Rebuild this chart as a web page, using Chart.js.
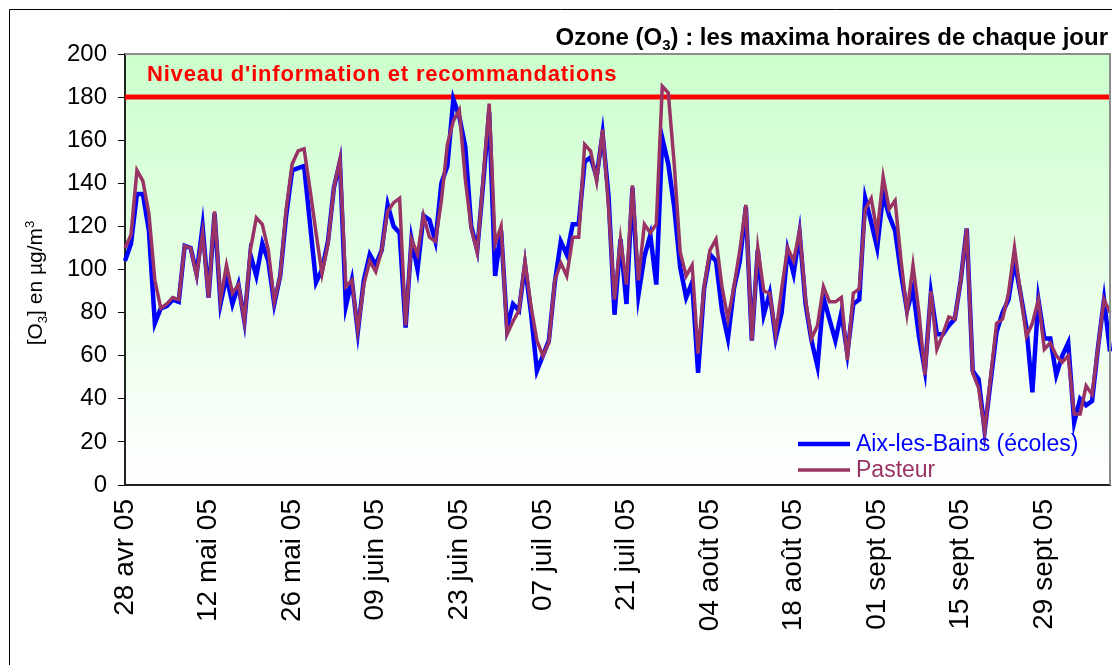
<!DOCTYPE html>
<html lang="fr">
<head>
<meta charset="utf-8">
<title>Ozone (O3) : les maxima horaires de chaque jour</title>
<script src="https://cdn.jsdelivr.net/npm/chart.js@4.4.1/dist/chart.umd.min.js"></script>
<style>
    html, body { margin: 0; padding: 0; background: #fff; }
    #wrap { position: relative; width: 1112px; height: 665px; }
</style>
</head>
<body>
<div id="wrap"><canvas id="ozoneChart"></canvas></div>
<script>
// Données : maxima horaires journaliers d'ozone (µg/m3), du 28 avril 2005 au 10 octobre 2005
const dateDebut = new Date(2005, 3, 28);
const moisCourts = ["janv", "févr", "mars", "avr", "mai", "juin", "juil", "août", "sept", "oct", "nov", "déc"];
const pasEtiquettes = 14;

const aixLesBains = [
    104, 112, 135, 135, 118, 75, 82, 83, 86, 85,
    111, 110, 98, 120, 87, 126, 84, 97, 84, 93,
    76, 107, 97, 112, 104, 84, 97, 125, 146, 147,
    148, 121, 94, 100, 113, 138, 150, 83, 95, 71,
    95, 107, 102, 109, 130, 120, 117, 73, 114, 100,
    125, 123, 113, 140, 148, 179, 171, 157, 120, 109,
    140, 173, 97, 118, 73, 84, 81, 102, 80, 53,
    60, 67, 94, 113, 107, 121, 121, 150, 152, 143,
    163, 134, 79, 114, 84, 138, 88, 106, 116, 93,
    161, 149, 129, 101, 87, 94, 52, 91, 107, 104,
    81, 68, 91, 104, 129, 67, 109, 79, 89, 68,
    80, 109, 98, 117, 84, 67, 55, 87, 77, 67,
    80, 61, 84, 86, 133, 122, 110, 135, 125, 118,
    98, 81, 91, 69, 53, 89, 70, 70, 74, 77,
    95, 119, 53, 49, 25, 48, 71, 80, 86, 104,
    89, 73, 43, 86, 68, 68, 51, 60, 66, 29,
    40, 37, 39, 64, 86, 62
];

const pasteur = [
    110, 116, 146, 141, 126, 95, 82, 84, 87, 86,
    111, 110, 97, 117, 87, 127, 86, 102, 89, 93,
    76, 109, 124, 121, 109, 85, 97, 128, 149, 155,
    156, 137, 117, 98, 112, 138, 151, 92, 95, 72,
    93, 104, 99, 109, 127, 131, 133, 74, 114, 107,
    125, 115, 113, 132, 158, 169, 174, 142, 119, 108,
    142, 177, 112, 120, 70, 76, 81, 104, 83, 67,
    60, 66, 95, 103, 97, 115, 115, 158, 155, 141,
    165, 129, 86, 114, 93, 139, 95, 121, 117, 121,
    185, 182, 149, 108, 97, 102, 61, 92, 109, 114,
    92, 77, 92, 109, 130, 67, 110, 90, 89, 70,
    91, 110, 104, 118, 86, 68, 74, 92, 85, 85,
    87, 58, 89, 91, 128, 133, 117, 143, 128, 132,
    104, 80, 102, 80, 51, 90, 63, 70, 78, 77,
    95, 119, 52, 45, 25, 50, 75, 77, 89, 110,
    89, 69, 75, 86, 63, 66, 60, 57, 60, 33,
    33, 46, 42, 64, 86, 80
];

const seuilInformation = 180;
const yMin = 0;
const yMax = 200;
const yPas = 20;

// Libellés des jours : "28 avr 05"
const jours = aixLesBains.map((_, i) => {
    const d = new Date(dateDebut);
    d.setDate(d.getDate() + i);
    return String(d.getDate()).padStart(2, "0") + " " + moisCourts[d.getMonth()] + " 05";
});

const police = "'Liberation Sans', Arial, sans-serif";

// Texte avec indices / exposants
function largeurRiche(ctx, morceaux, taille, gras) {
    let w = 0;
    morceaux.forEach(m => {
        const t = m.sub || m.sup ? Math.round(taille * 0.62) : taille;
        ctx.font = (gras ? "bold " : "") + t + "px " + police;
        w += ctx.measureText(m.t).width;
    });
    return w;
}

function texteRiche(ctx, morceaux, x, y, taille, gras) {
    let cx = x;
    morceaux.forEach(m => {
        const t = m.sub || m.sup ? Math.round(taille * 0.62) : taille;
        ctx.font = (gras ? "bold " : "") + t + "px " + police;
        let dy = 0;
        if (m.sub) dy = taille * 0.22;
        if (m.sup) dy = -taille * 0.38;
        ctx.fillText(m.t, cx, y + dy);
        cx += ctx.measureText(m.t).width;
    });
}

// Fond dégradé vert -> blanc de la zone de tracé
const fondDegrade = {
    id: "fondDegrade",
    beforeDraw(chart) {
        const { ctx, chartArea: a } = chart;
        const g = ctx.createLinearGradient(0, a.top, 0, a.bottom);
        g.addColorStop(0, "#ccffcc");
        g.addColorStop(1, "#ffffff");
        ctx.save();
        ctx.fillStyle = g;
        ctx.fillRect(a.left, a.top, a.right - a.left, a.bottom - a.top);
        ctx.restore();
    }
};

// Seuil d'information à 180
const ligneSeuil = {
    id: "ligneSeuil",
    beforeDatasetsDraw(chart) {
        const { ctx, chartArea: a, scales } = chart;
        const y = scales.y.getPixelForValue(seuilInformation);
        ctx.save();
        ctx.strokeStyle = "#ff0000";
        ctx.lineWidth = 5;
        ctx.beginPath();
        ctx.moveTo(a.left, y);
        ctx.lineTo(a.right, y);
        ctx.stroke();

        ctx.fillStyle = "#ff0000";
        ctx.font = "bold 22px " + police;
        ctx.letterSpacing = "0.8px";
        ctx.textBaseline = "alphabetic";
        ctx.fillText("Niveau d'information et recommandations", a.left + 22, y - 16);
        ctx.restore();
    }
};

// Cadres, titre, titre de l'axe Y et légende
const habillage = {
    id: "habillage",
    afterDraw(chart) {
        const { ctx, chartArea: a } = chart;
        ctx.save();

        // bord gris haut et droit de la zone de tracé
        ctx.strokeStyle = "#8c8c8c";
        ctx.lineWidth = 2;
        ctx.beginPath();
        ctx.moveTo(a.left, a.top);
        ctx.lineTo(a.right, a.top);
        ctx.lineTo(a.right, a.bottom);
        ctx.stroke();

        // cadre extérieur
        ctx.strokeStyle = "#000";
        ctx.lineWidth = 1;
        ctx.beginPath();
        ctx.moveTo(9.5, chart.height);
        ctx.lineTo(9.5, 9.5);
        ctx.lineTo(chart.width, 9.5);
        ctx.stroke();

        // titre
        ctx.fillStyle = "#000";
        ctx.textBaseline = "alphabetic";
        const titre = [{ t: "Ozone (O" }, { t: "3", sub: true }, { t: ") : les maxima horaires de chaque jour" }];
        const wt = largeurRiche(ctx, titre, 24, true);
        texteRiche(ctx, titre, a.right - 2 - wt, 45, 24, true);

        // titre de l'axe Y
        const titreY = [{ t: "[O" }, { t: "3", sub: true }, { t: "] en µg/m" }, { t: "3", sup: true }];
        ctx.save();
        ctx.translate(42, 283);
        ctx.rotate(-Math.PI / 2);
        const wy = largeurRiche(ctx, titreY, 21, false);
        texteRiche(ctx, titreY, -wy / 2, 0, 21, false);
        ctx.restore();

        // légende dans la zone de tracé
        const legY = [444, 470];
        chart.data.datasets.forEach((ds, i) => {
            ctx.strokeStyle = ds.borderColor;
            ctx.lineWidth = ds.borderWidth;
            ctx.beginPath();
            ctx.moveTo(798, legY[i]);
            ctx.lineTo(850, legY[i]);
            ctx.stroke();
            ctx.fillStyle = ds.borderColor;
            ctx.font = "23px " + police;
            ctx.textBaseline = "middle";
            ctx.fillText(ds.label, 856, legY[i] + 1);
        });

        ctx.restore();
    }
};

const ctx = document.getElementById("ozoneChart").getContext("2d");

new Chart(ctx, {
    type: "line",
    data: {
        labels: jours,
        datasets: [
            {
                label: "Aix-les-Bains (écoles)",
                data: aixLesBains,
                borderColor: "#0000ff",
                borderWidth: 4.5,
                pointRadius: 0,
                tension: 0,
                order: 1
            },
            {
                label: "Pasteur",
                data: pasteur,
                borderColor: "#993366",
                borderWidth: 3.5,
                pointRadius: 0,
                tension: 0,
                order: 0
            }
        ]
    },
    options: {
        responsive: true,
        maintainAspectRatio: false,
        animation: false,
        layout: { padding: { left: 0, top: 54, right: 2, bottom: 0 } },
        plugins: {
            legend: { display: false },
            tooltip: { enabled: false },
            title: { display: false }
        },
        scales: {
            x: {
                type: "category",
                offset: false,
                afterFit(scale) {
                    scale.height = 180;
                    scale.paddingLeft = 0;
                    scale.paddingRight = 0;
                },
                grid: { display: true, drawOnChartArea: false, drawTicks: false },
                border: { display: true, color: "#222", width: 2 },
                ticks: {
                    autoSkip: false,
                    maxRotation: 90,
                    minRotation: 90,
                    padding: 14,
                    color: "#000",
                    font: { family: police, size: 28 },
                    callback(value, index) {
                        return index % pasEtiquettes === 0 ? this.getLabelForValue(value) : "";
                    }
                }
            },
            y: {
                min: yMin,
                max: yMax,
                afterFit(scale) {
                    scale.width = 125;
                    scale.paddingTop = 0;
                    scale.paddingBottom = 0;
                },
                grid: { display: true, drawOnChartArea: false, drawTicks: true, tickLength: 7, color: "#000" },
                border: { display: true, color: "#222", width: 2 },
                ticks: {
                    stepSize: yPas,
                    padding: 11,
                    color: "#000",
                    font: { family: police, size: 24 }
                }
            }
        }
    },
    plugins: [fondDegrade, ligneSeuil, habillage]
});
</script>
</body>
</html>
